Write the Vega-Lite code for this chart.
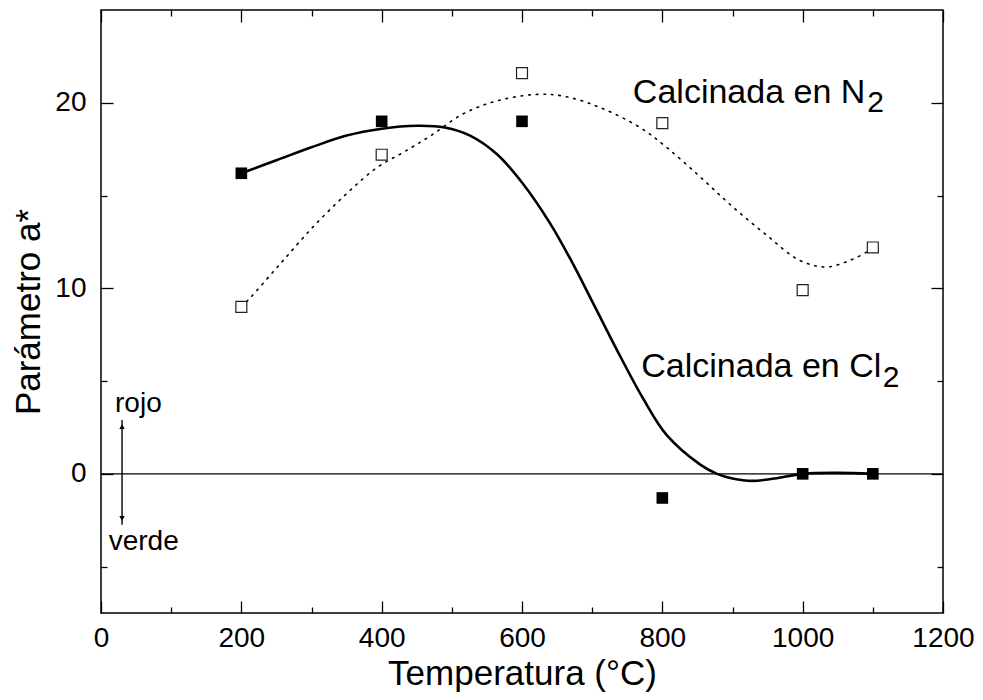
{
  "$schema": "https://vega.github.io/schema/vega-lite/v6.json",
  "width": 842,
  "height": 603,
  "autosize": {"type": "none"},
  "padding": {"left": 101, "top": 10, "right": 40, "bottom": 87},
  "background": "white",
  "config": {
    "view": {"stroke": "black", "strokeWidth": 1.5},
    "font": "Liberation Sans",
    "axis": {
      "domain": false,
      "grid": false,
      "labelFont": "Liberation Sans",
      "labelFontSize": 28,
      "labelColor": "black",
      "titleFont": "Liberation Sans",
      "titleFontSize": 35,
      "titleFontWeight": "normal",
      "titleColor": "black",
      "tickColor": "black",
      "tickWidth": 1.3
    }
  },
  "datasets": {
    "medidas": [
      {"T": 200, "a": 16.2, "serie": "Cl2"},
      {"T": 400, "a": 19.0, "serie": "Cl2"},
      {"T": 600, "a": 19.0, "serie": "Cl2"},
      {"T": 800, "a": -1.3, "serie": "Cl2"},
      {"T": 1000, "a": 0.0, "serie": "Cl2"},
      {"T": 1100, "a": 0.0, "serie": "Cl2"},
      {"T": 200, "a": 9.0, "serie": "N2"},
      {"T": 400, "a": 17.2, "serie": "N2"},
      {"T": 600, "a": 21.6, "serie": "N2"},
      {"T": 800, "a": 18.9, "serie": "N2"},
      {"T": 1000, "a": 9.9, "serie": "N2"},
      {"T": 1100, "a": 12.2, "serie": "N2"}
    ],
    "ajustes": [
      {"T": 200, "a": 16.2, "serie": "Cl2"},
      {"T": 250, "a": 16.9, "serie": "Cl2"},
      {"T": 300, "a": 17.6, "serie": "Cl2"},
      {"T": 350, "a": 18.23, "serie": "Cl2"},
      {"T": 400, "a": 18.6, "serie": "Cl2"},
      {"T": 450, "a": 18.76, "serie": "Cl2"},
      {"T": 490, "a": 18.67, "serie": "Cl2"},
      {"T": 526, "a": 18.23, "serie": "Cl2"},
      {"T": 564, "a": 17.24, "serie": "Cl2"},
      {"T": 600, "a": 15.7, "serie": "Cl2"},
      {"T": 640, "a": 13.5, "serie": "Cl2"},
      {"T": 670, "a": 11.5, "serie": "Cl2"},
      {"T": 700, "a": 9.3, "serie": "Cl2"},
      {"T": 735, "a": 6.7, "serie": "Cl2"},
      {"T": 772, "a": 4.1, "serie": "Cl2"},
      {"T": 806, "a": 2.1, "serie": "Cl2"},
      {"T": 854, "a": 0.5, "serie": "Cl2"},
      {"T": 878, "a": 0.0, "serie": "Cl2"},
      {"T": 900, "a": -0.25, "serie": "Cl2"},
      {"T": 928, "a": -0.38, "serie": "Cl2"},
      {"T": 960, "a": -0.25, "serie": "Cl2"},
      {"T": 1000, "a": 0.0, "serie": "Cl2"},
      {"T": 1050, "a": 0.05, "serie": "Cl2"},
      {"T": 1100, "a": 0.0, "serie": "Cl2"},
      {"T": 200, "a": 9.0, "serie": "N2"},
      {"T": 212, "a": 9.46, "serie": "N2"},
      {"T": 255, "a": 11.3, "serie": "N2"},
      {"T": 302, "a": 13.3, "serie": "N2"},
      {"T": 350, "a": 15.1, "serie": "N2"},
      {"T": 393, "a": 16.5, "serie": "N2"},
      {"T": 431, "a": 17.33, "serie": "N2"},
      {"T": 469, "a": 18.2, "serie": "N2"},
      {"T": 516, "a": 19.4, "serie": "N2"},
      {"T": 564, "a": 20.1, "serie": "N2"},
      {"T": 621, "a": 20.45, "serie": "N2"},
      {"T": 660, "a": 20.35, "serie": "N2"},
      {"T": 711, "a": 19.75, "serie": "N2"},
      {"T": 768, "a": 18.67, "serie": "N2"},
      {"T": 806, "a": 17.6, "serie": "N2"},
      {"T": 854, "a": 16.0, "serie": "N2"},
      {"T": 901, "a": 14.37, "serie": "N2"},
      {"T": 949, "a": 12.85, "serie": "N2"},
      {"T": 996, "a": 11.5, "serie": "N2"},
      {"T": 1034, "a": 11.15, "serie": "N2"},
      {"T": 1067, "a": 11.5, "serie": "N2"},
      {"T": 1091, "a": 11.95, "serie": "N2"},
      {"T": 1100, "a": 12.2, "serie": "N2"}
    ],
    "rotulos": [
      {"T": 758, "a": 20.0, "texto": "Calcinada en N", "tam": 34},
      {"T": 1092, "a": 19.5, "texto": "2", "tam": 30},
      {"T": 770, "a": 5.2, "texto": "Calcinada en Cl", "tam": 34},
      {"T": 1114, "a": 4.7, "texto": "2", "tam": 30},
      {"T": 20, "a": 3.35, "texto": "rojo", "tam": 28},
      {"T": 11, "a": -4.1, "texto": "verde", "tam": 28}
    ]
  },
  "resolve": {"axis": {"x": "independent", "y": "independent"}},
  "layer": [
    {
      "data": {"values": [{"a": 0}]},
      "mark": {"type": "rule", "color": "black", "strokeWidth": 1.4},
      "encoding": {
        "y": {"field": "a", "type": "quantitative", "axis": null, "scale": {"domain": [-7.5, 25], "nice": false, "zero": false}}
      }
    },
    {
      "data": {"name": "ajustes"},
      "transform": [{"filter": "datum.serie === 'N2'"}],
      "mark": {"type": "line", "interpolate": "catmull-rom", "color": "black", "strokeWidth": 1.6, "strokeDash": [1.6, 6], "strokeCap": "round"},
      "encoding": {
        "x": {"field": "T", "type": "quantitative", "scale": {"domain": [0, 1200], "nice": false, "zero": false},
          "axis": {"orient": "top", "labels": false, "title": null, "values": [0,100,200,300,400,500,600,700,800,900,1000,1100,1200],
            "tickSize": {"condition": {"test": "datum.value % 200 === 0", "value": -12}, "value": -6}}},
        "y": {"field": "a", "type": "quantitative", "scale": {"domain": [-7.5, 25], "nice": false, "zero": false},
          "axis": {"orient": "right", "labels": false, "title": null, "values": [-5, 0, 5, 10, 15, 20],
            "tickSize": {"condition": {"test": "datum.value % 10 === 0", "value": -12}, "value": -6}}}
      }
    },
    {
      "data": {"name": "ajustes"},
      "transform": [{"filter": "datum.serie === 'Cl2'"}],
      "mark": {"type": "line", "interpolate": "catmull-rom", "color": "black", "strokeWidth": 2.6},
      "encoding": {
        "x": {"field": "T", "type": "quantitative", "axis": null},
        "y": {"field": "a", "type": "quantitative", "axis": null}
      }
    },
    {
      "data": {"name": "medidas"},
      "transform": [{"filter": "datum.serie === 'N2'"}],
      "mark": {"type": "point", "shape": "square", "filled": true, "fill": "white", "stroke": "#222222", "strokeWidth": 1.2, "size": 120, "opacity": 1},
      "encoding": {
        "x": {"field": "T", "type": "quantitative", "axis": null},
        "y": {"field": "a", "type": "quantitative", "axis": null}
      }
    },
    {
      "data": {"name": "medidas"},
      "transform": [{"filter": "datum.serie === 'Cl2'"}],
      "mark": {"type": "point", "shape": "square", "filled": true, "color": "black", "size": 135, "opacity": 1},
      "encoding": {
        "x": {"field": "T", "type": "quantitative",
          "axis": {"orient": "bottom", "title": "Temperatura (°C)", "values": [0,100,200,300,400,500,600,700,800,900,1000,1100,1200],
            "format": "d",
            "labelExpr": "datum.value % 200 === 0 ? datum.label : ''",
            "labelPadding": 23, "titlePadding": -2, "labelFlush": false, "labelOverlap": false,
            "tickSize": {"condition": {"test": "datum.value % 200 === 0", "value": -12}, "value": -6}}},
        "y": {"field": "a", "type": "quantitative",
          "axis": {"orient": "left", "title": "Parámetro a*", "values": [-5, 0, 5, 10, 15, 20],
            "format": "d",
            "labelExpr": "datum.value % 10 === 0 ? datum.label : ''",
            "labelPadding": 27, "titlePadding": 8, "labelFlush": false, "labelOverlap": false,
            "tickSize": {"condition": {"test": "datum.value % 10 === 0", "value": -12}, "value": -6}}}
      }
    },
    {
      "data": {"values": [{"T": 30, "a1": 2.9, "a2": -2.74}]},
      "mark": {"type": "rule", "color": "black", "strokeWidth": 1.4},
      "encoding": {
        "x": {"field": "T", "type": "quantitative", "axis": null},
        "y": {"field": "a1", "type": "quantitative", "axis": null},
        "y2": {"field": "a2"}
      }
    },
    {
      "data": {"values": [{"T": 30, "a": 2.55, "forma": "triangle-up"}, {"T": 30, "a": -2.4, "forma": "triangle-down"}]},
      "mark": {"type": "point", "filled": true, "color": "black", "size": 30, "opacity": 1},
      "encoding": {
        "x": {"field": "T", "type": "quantitative", "axis": null},
        "y": {"field": "a", "type": "quantitative", "axis": null},
        "shape": {"field": "forma", "type": "nominal", "scale": {"domain": ["triangle-up", "triangle-down"], "range": ["triangle-up", "triangle-down"]}, "legend": null}
      }
    },
    {
      "data": {"name": "rotulos"},
      "mark": {"type": "text", "align": "left", "baseline": "alphabetic", "color": "black", "font": "Liberation Sans"},
      "encoding": {
        "x": {"field": "T", "type": "quantitative", "axis": null},
        "y": {"field": "a", "type": "quantitative", "axis": null},
        "text": {"field": "texto"},
        "size": {"field": "tam", "type": "quantitative", "scale": null}
      }
    }
  ]
}
